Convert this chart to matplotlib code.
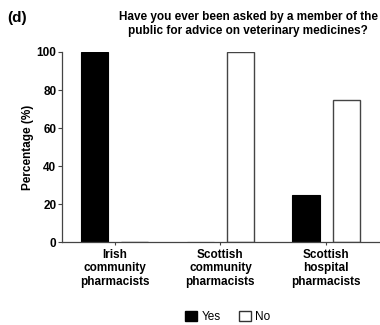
import numpy as np
import matplotlib.pyplot as plt
from matplotlib.patches import Patch

plt.rcParams['font.family'] = ['Liberation Sans', 'DejaVu Sans']

categories = ['Irish\ncommunity\npharmacists',
              'Scottish\ncommunity\npharmacists',
              'Scottish\nhospital\npharmacists']
yes_pct = [100, 0, 25]
no_pct = [0, 100, 75]

fig = plt.figure(figsize=(3.8, 3.25), dpi=100)
ax = fig.add_axes([0.163, 0.255, 0.834, 0.585])

x = np.arange(len(categories))
w = 0.257
off = 0.19
ax.bar(x - off, yes_pct, w, color='black', edgecolor='black', linewidth=0.8)
ax.bar(x + off, no_pct, w, color='white', edgecolor='#444444', linewidth=1.0)

ax.set_xlim(-0.5, 2.5)
ax.set_ylim(0, 100)
ax.set_yticks([0, 20, 40, 60, 80, 100])
ax.set_xticks(x)
ax.set_xticklabels(categories, fontweight='bold', fontsize=8.5, linespacing=1.15)
ax.tick_params(axis='y', labelsize=8.5, length=3, width=0.8, colors='#444444',
               labelcolor='black', pad=1)
ax.tick_params(axis='x', length=2, width=0.8, colors='#444444',
               labelcolor='black', pad=3)
for lab in ax.get_yticklabels():
    lab.set_fontweight('bold')
for s in ['top', 'right']:
    ax.spines[s].set_visible(False)
for s in ['left', 'bottom']:
    ax.spines[s].set_color('#444444')
    ax.spines[s].set_linewidth(0.9)

ax.set_ylabel('Percentage (%)', fontweight='bold', fontsize=8.5, labelpad=2)

fig.text(0.02, 0.945, '(d)', fontweight='bold', fontsize=11, va='center')
fig.text(0.653, 0.925,
         'Have you ever been asked by a member of the\npublic for advice on veterinary medicines?',
         fontweight='bold', fontsize=8.5, ha='center', va='center', linespacing=1.2)

handles = [Patch(facecolor='black', edgecolor='black', label='Yes'),
           Patch(facecolor='white', edgecolor='#333333', label='No')]
fig.legend(handles=handles, loc='center', bbox_to_anchor=(0.6, 0.025), ncol=2,
           frameon=False, fontsize=8.5, handlelength=1.0, handleheight=1.0,
           handletextpad=0.4, columnspacing=1.5)

fig.savefig('out.png', dpi=100)
